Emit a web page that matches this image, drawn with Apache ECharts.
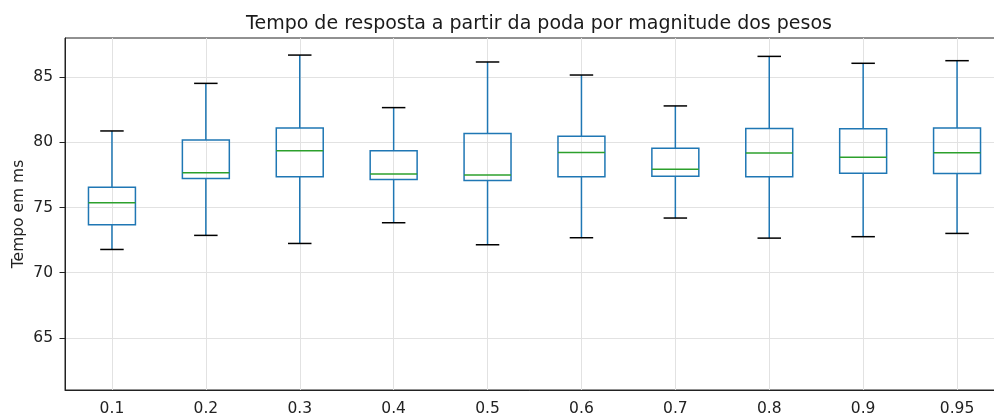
<!DOCTYPE html>
<html>
<head>
<meta charset="utf-8">
<script src="https://cdn.jsdelivr.net/npm/echarts@6/dist/echarts.min.js"></script>
<style>
html,body{margin:0;padding:0;background:#fff;}
#chart{width:994px;height:417px;}
</style>
</head>
<body>
<div id="chart"></div>
<script>
const categories = ['0.1','0.2','0.3','0.4','0.5','0.6','0.7','0.8','0.9','0.95'];
const whiskerLow  = [71.78, 72.86, 72.24, 73.83, 72.14, 72.68, 74.19, 72.65, 72.76, 73.01];
const quartile1   = [73.68, 77.22, 77.35, 77.14, 77.07, 77.35, 77.40, 77.35, 77.63, 77.60];
const medians     = [75.36, 77.66, 79.36, 77.56, 77.50, 79.21, 77.94, 79.17, 78.86, 79.19];
const quartile3   = [76.56, 80.18, 81.10, 79.36, 80.67, 80.47, 79.55, 81.05, 81.03, 81.10];
const whiskerHigh = [80.87, 84.52, 86.69, 82.66, 86.16, 85.16, 82.79, 86.59, 86.06, 86.26];
const yTicks = [65, 70, 75, 80, 85];

const FONT = 'DejaVu Sans';
const BLUE = '#1f77b4', GREEN = '#2ca02c', BLACK = '#000000';

const seriesData = categories.map((c, i) => [i, whiskerLow[i], quartile1[i], medians[i], quartile3[i], whiskerHigh[i]]);

function renderItem(params, api) {
  const x = api.value(0);
  const low = api.coord([x, api.value(1)]);
  const q1 = api.coord([x, api.value(2)]);
  const med = api.coord([x, api.value(3)]);
  const q3 = api.coord([x, api.value(4)]);
  const high = api.coord([x, api.value(5)]);
  const band = api.size([1, 0])[0];
  const bw = band * 0.5, cw = band * 0.25;
  const cx = low[0];
  const lw = 1.5;
  const line = (x1, y1, x2, y2, color) => ({
    type: 'line', shape: {x1, y1, x2, y2},
    style: {stroke: color, lineWidth: lw, fill: null}
  });
  return {
    type: 'group',
    children: [
      line(cx, q1[1], cx, low[1], BLUE),
      line(cx, q3[1], cx, high[1], BLUE),
      line(cx - cw/2, low[1], cx + cw/2, low[1], BLACK),
      line(cx - cw/2, high[1], cx + cw/2, high[1], BLACK),
      {type: 'rect', shape: {x: cx - bw/2, y: q3[1], width: bw, height: q1[1] - q3[1]},
       style: {stroke: BLUE, lineWidth: lw, fill: null}},
      line(cx - bw/2, med[1], cx + bw/2, med[1], GREEN)
    ]
  };
}

const chart = echarts.init(document.getElementById('chart'), null, {renderer: 'canvas'});
chart.setOption({
  animation: false,
  backgroundColor: '#ffffff',
  title: {
    text: 'Tempo de resposta a partir da poda por magnitude dos pesos',
    left: 534, top: 10, textAlign: 'center',
    textStyle: {fontFamily: FONT, fontSize: 19, fontWeight: 'normal', color: '#1a1a1a'}
  },
  grid: {
    left: 65, top: 38, height: 352, width: 939,
    outerBoundsMode: 'none',
    containLabel: false,
    show: true, borderColor: '#222', borderWidth: 1, backgroundColor: 'transparent'
  },
  xAxis: {
    type: 'category',
    data: categories,
    boundaryGap: true,
    axisLine: {lineStyle: {color: '#222', width: 1}},
    axisTick: {alignWithLabel: true, length: 5.5, lineStyle: {color: '#222'}},
    axisLabel: {fontFamily: FONT, fontSize: 15.5, color: '#222', margin: 11},
    splitLine: {show: true, alignWithLabel: true, lineStyle: {color: '#e2e2e2', width: 1}}
  },
  yAxis: {
    type: 'value',
    min: 61, max: 88,
    name: 'Tempo em ms',
    nameLocation: 'middle',
    nameGap: 38,
    nameMoveOverlap: false,
    nameTextStyle: {fontFamily: FONT, fontSize: 15.5, color: '#222'},
    axisLine: {show: true, lineStyle: {color: '#222', width: 1}},
    axisTick: {show: true, length: 5.5, customValues: yTicks, lineStyle: {color: '#222'}},
    axisLabel: {fontFamily: FONT, fontSize: 15.5, color: '#222', margin: 12, customValues: yTicks},
    splitLine: {show: true, customValues: yTicks, lineStyle: {color: '#e2e2e2', width: 1}}
  },
  series: [{
    type: 'custom',
    renderItem: renderItem,
    encode: {x: 0, y: [1, 2, 3, 4, 5]},
    data: seriesData,
    clip: false
  }]
});
</script>
</body>
</html>
